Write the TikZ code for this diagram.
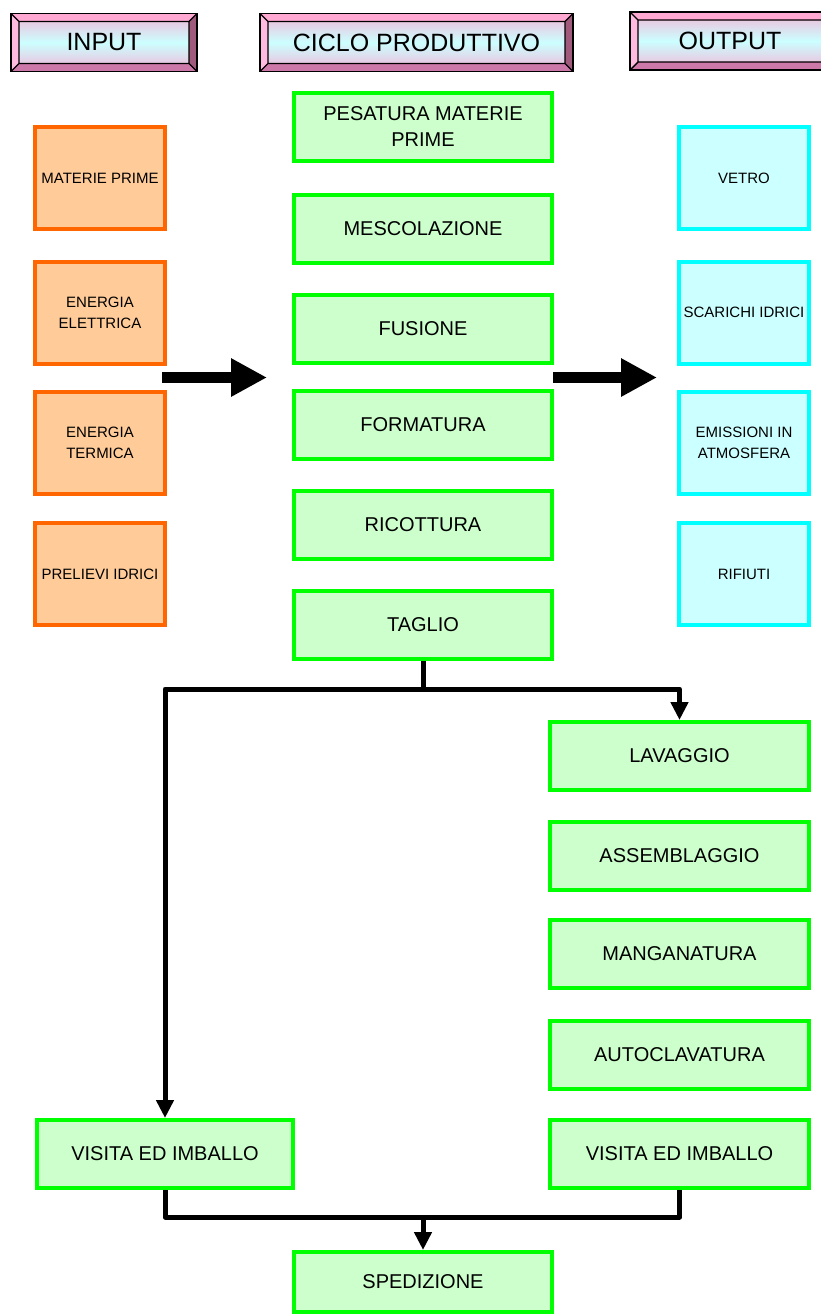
\documentclass[tikz,border=0pt]{standalone}
\usepackage{fontspec}
\setmainfont{Liberation Sans}
\usetikzlibrary{arrows.meta,calc}
\definecolor{greenfill}{HTML}{CCFFCC}
\definecolor{greenline}{HTML}{00FF00}
\definecolor{orangefill}{HTML}{FFCC99}
\definecolor{orangeline}{HTML}{FF6600}
\definecolor{cyanfill}{HTML}{CCFFFF}
\definecolor{cyanline}{HTML}{00FFFF}
\definecolor{bevshade}{HTML}{F2B6D8}
\definecolor{bevtop}{HTML}{FFA8D2}
\definecolor{bevleft}{HTML}{FFBADF}
\definecolor{bevright}{HTML}{A05A7C}
\definecolor{bevbot}{HTML}{CC78A8}
\tikzset{
  stepbox/.style={draw=greenline, fill=greenfill, line width=4pt, inner sep=0pt,
    minimum width=258pt, minimum height=68pt, align=center,
    font=\fontsize{20}{26}\selectfont},
  inbox/.style={draw=orangeline, fill=orangefill, line width=4pt, inner sep=0pt,
    minimum width=130pt, minimum height=102pt, align=center,
    font=\fontsize{15}{21}\selectfont},
  outbox/.style={inbox, draw=cyanline, fill=cyanfill},
  header/.style={draw=black, line width=1.4pt, inner sep=0pt, minimum height=58pt,
    top color=bevshade, bottom color=bevshade, middle color=cyanfill,
    font=\fontsize{25}{30}\selectfont,
    path picture={
      \coordinate (a1) at (path picture bounding box.north west);
      \coordinate (a2) at (path picture bounding box.north east);
      \coordinate (a3) at (path picture bounding box.south east);
      \coordinate (a4) at (path picture bounding box.south west);
      \coordinate (b1) at ($(a1)+(8pt,-8pt)$);
      \coordinate (b2) at ($(a2)+(-8pt,-8pt)$);
      \coordinate (b3) at ($(a3)+(-8pt,8pt)$);
      \coordinate (b4) at ($(a4)+(8pt,8pt)$);
      \fill[bevtop] (a1) -- (a2) -- (b2) -- (b1) -- cycle;
      \fill[bevleft] (a1) -- (b1) -- (b4) -- (a4) -- cycle;
      \fill[bevright] (a2) -- (a3) -- (b3) -- (b2) -- cycle;
      \fill[bevbot] (a4) -- (a3) -- (b3) -- (b4) -- cycle;
      \draw[line width=1.4pt] (b1) rectangle (b3)
        (a1) -- (b1) (a2) -- (b2) (a3) -- (b3) (a4) -- (b4);
    }},
  conn/.style={line width=5pt, line join=round},
  connarrow/.style={conn, -{Triangle[length=18pt,width=17pt]}},
  bigarrow/.style={line width=11pt, -{Triangle[length=36pt,width=36pt]}}
}

\begin{document}
\begin{tikzpicture}[x=1pt,y=-1pt]
  \useasboundingbox (0,0) rectangle (821,1315);

  % headers
  \node[header, minimum width=186pt] (hIn) at (104,42.5) {INPUT};
  \node[header, minimum width=313pt] (hCiclo) at (416.5,42.5) {CICLO PRODUTTIVO};
  \node[header, minimum width=200pt] (hOut) at (730,41) {OUTPUT};

  % input
  \node[inbox] (mat) at (100,178) {MATERIE PRIME};
  \node[inbox] (eel) at (100,312.5) {ENERGIA\\ELETTRICA};
  \node[inbox] (eter) at (100,442.5) {ENERGIA\\TERMICA};
  \node[inbox] (prel) at (100,574) {PRELIEVI IDRICI};

  % output
  \node[outbox] (vetro) at (744,178) {VETRO};
  \node[outbox] (scar) at (744,312.5) {SCARICHI IDRICI};
  \node[outbox] (emis) at (744,442.5) {EMISSIONI IN\\ATMOSFERA};
  \node[outbox] (rif) at (744,574) {RIFIUTI};

  % ciclo produttivo
  \node[stepbox] (pes) at (423,127) {PESATURA MATERIE\\PRIME};
  \node[stepbox] (mesc) at (423,228.5) {MESCOLAZIONE};
  \node[stepbox] (fus) at (423,329) {FUSIONE};
  \node[stepbox] (form) at (423,425) {FORMATURA};
  \node[stepbox] (ric) at (423,525) {RICOTTURA};
  \node[stepbox] (tag) at (423,625) {TAGLIO};

  \node[stepbox, minimum width=259pt] (lav) at (679.5,756) {LAVAGGIO};
  \node[stepbox, minimum width=259pt] (ass) at (679.5,856) {ASSEMBLAGGIO};
  \node[stepbox, minimum width=259pt] (mang) at (679.5,954) {MANGANATURA};
  \node[stepbox, minimum width=259pt] (auto) at (679.5,1055) {AUTOCLAVATURA};
  \node[stepbox, minimum width=259pt] (visR) at (679.5,1154) {VISITA ED IMBALLO};
  \node[stepbox, minimum width=256pt] (visL) at (165,1154) {VISITA ED IMBALLO};
  \node[stepbox, minimum height=60pt] (sped) at (423,1282) {SPEDIZIONE};

  % big arrows
  \coordinate (inFrom) at (162,377.5);
  \coordinate (inTo) at (267,377.5);
  \coordinate (outFrom) at (553,377.5);
  \coordinate (outTo) at (657,377.5);
  \draw[bigarrow] (inFrom) -- (inTo);
  \draw[bigarrow] (outFrom) -- (outTo);

  % connectors
  \coordinate (split) at (423,689);
  \coordinate (merge) at (423,1217);
  \draw[conn] (tag.south) -- (split);
  \draw[connarrow] (split) -| (lav.north);
  \draw[connarrow] (split) -| (visL.north);
  \draw[conn] (visL.south) |- (merge) -| (visR.south);
  \draw[connarrow] (merge) -- (sped.north);
\end{tikzpicture}
\end{document}
